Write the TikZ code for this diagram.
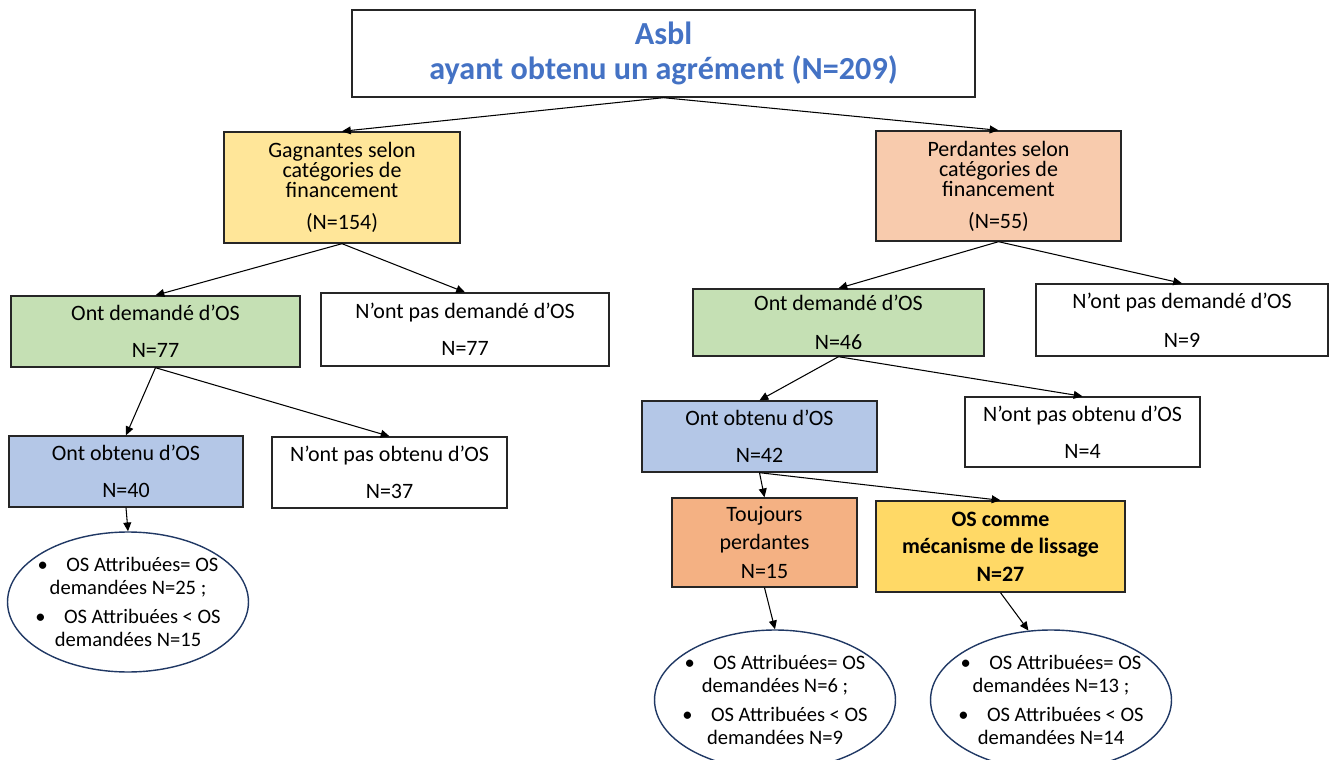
\documentclass[tikz,border=0pt]{standalone}
\usepackage{fontspec}
\setmainfont{Carlito}
\usepackage{xcolor}
\usetikzlibrary{arrows.meta, shapes.geometric}

\definecolor{titre}{HTML}{4472C4}
\definecolor{jaune}{HTML}{FFE699}
\definecolor{saumon}{HTML}{F8CBAD}
\definecolor{vert}{HTML}{C5E0B4}
\definecolor{bleu}{HTML}{B4C7E7}
\definecolor{orangeclair}{HTML}{F4B183}
\definecolor{ocre}{HTML}{FFD966}
\definecolor{trait}{HTML}{203864}

\begin{document}
\begin{tikzpicture}[x=0.02cm, y=-0.02cm,
  boite/.style={draw=black!85, line width=0.8pt, align=center, inner sep=0pt, font=\fontsize{12.5}{15}\selectfont},
  bulle/.style={draw=trait, line width=0.8pt, ellipse, inner sep=0pt, minimum width=4.82cm, minimum height=2.8cm},
  puces/.style={align=center, inner sep=0pt, font=\fontsize{11.7}{13}\selectfont},
  fleche/.style={line width=0.6pt, -{Triangle[length=5pt, width=4.5pt]}}]

  \useasboundingbox (0,0) rectangle (1329,760);

  % Racine
  \node[boite, minimum width=12.46cm, minimum height=1.74cm, text=titre,
        font=\fontsize{18.3}{20.4}\selectfont\bfseries] (asbl) at (663.5,53.5)
        {Asbl\\ayant obtenu un agrément (N=209)};

  % Gagnantes / perdantes
  \node[boite, fill=jaune, minimum width=4.72cm, minimum height=2.22cm,
        font=\fontsize{12.5}{11.5}\selectfont] (gagn) at (342,187.5)
        {Gagnantes selon\\catégories de\\financement\\[6.5pt](N=154)};
  \node[boite, fill=saumon, minimum width=4.90cm, minimum height=2.20cm,
        font=\fontsize{12.5}{11.5}\selectfont] (perd) at (998.5,186)
        {Perdantes selon\\catégories de\\financement\\[6.5pt](N=55)};

  % Demandes d'OS
  \node[boite, fill=vert, minimum width=5.78cm, minimum height=1.42cm] (dem1) at (155.5,331.5)
        {Ont demandé d’OS\\[6pt]N=77};
  \node[boite, minimum width=5.76cm, minimum height=1.46cm] (nodem1) at (465,329.5)
        {N’ont pas demandé d’OS\\[6pt]N=77};
  \node[boite, fill=vert, minimum width=5.82cm, minimum height=1.34cm] (dem2) at (838.5,322.5)
        {Ont demandé d’OS\\[7pt]N=46};
  \node[boite, minimum width=5.84cm, minimum height=1.44cm] (nodem2) at (1182,320)
        {N’ont pas demandé d’OS\\[7pt]N=9};

  % Obtention d'OS
  \node[boite, fill=bleu, minimum width=4.68cm, minimum height=1.42cm] (obt1) at (126,471.5)
        {Ont obtenu d’OS\\[6pt]N=40};
  \node[boite, minimum width=4.70cm, minimum height=1.42cm] (noobt1) at (389.5,472.5)
        {N’ont pas obtenu d’OS\\[6pt]N=37};
  \node[boite, fill=bleu, minimum width=4.70cm, minimum height=1.42cm] (obt2) at (759.5,436.5)
        {Ont obtenu d’OS\\[6pt]N=42};
  \node[boite, minimum width=4.70cm, minimum height=1.40cm] (noobt2) at (1082.5,432)
        {N’ont pas obtenu d’OS\\[6pt]N=4};

  \node[boite, fill=orangeclair, minimum width=3.70cm, minimum height=1.78cm,
        font=\fontsize{12.5}{16}\selectfont] (touj) at (764.5,542.5)
        {Toujours\\perdantes\\N=15};
  \node[boite, fill=ocre, minimum width=4.98cm, minimum height=1.82cm,
        font=\fontsize{12.5}{15.6}\selectfont\bfseries] (lissage) at (1000.5,546.5)
        {OS comme\\mécanisme de lissage\\N=27};

  % Bulles
  \node[bulle] (ell1) at (128,602) {};
  \node[puces] (txt1) at (ell1.center)
        {\textbullet\hspace{0.9em}OS Attribuées= OS\\demandées N=25 ;\\[3.4pt]\textbullet\hspace{0.9em}OS Attribuées < OS\\demandées N=15};
  \node[bulle] (ell2) at (775,700) {};
  \node[puces] (txt2) at (ell2.center)
        {\textbullet\hspace{0.9em}OS Attribuées= OS\\demandées N=6 ;\\[3.4pt]\textbullet\hspace{0.9em}OS Attribuées < OS\\demandées N=9};
  \node[bulle] (ell3) at (1051,700) {};
  \node[puces] (txt3) at (ell3.center)
        {\textbullet\hspace{0.9em}OS Attribuées= OS\\demandées N=13 ;\\[3.4pt]\textbullet\hspace{0.9em}OS Attribuées < OS\\demandées N=14};

  % Fleches
  \draw[fleche] (asbl.south) -- (gagn.north);
  \draw[fleche] (asbl.south) -- (perd.north);
  \draw[fleche] (gagn.south) -- (dem1.north);
  \draw[fleche] (gagn.south) -- (nodem1.north);
  \draw[fleche] (perd.south) -- (dem2.north);
  \draw[fleche] (perd.south) -- (nodem2.north);
  \draw[fleche] (dem1.south) -- (obt1.north);
  \draw[fleche] (dem1.south) -- (noobt1.north);
  \draw[fleche] (dem2.south) -- (obt2.north);
  \draw[fleche] (dem2.south) -- (noobt2.north);
  \draw[fleche] (obt2.south) -- (touj.north);
  \draw[fleche] (obt2.south) -- (lissage.north);
  \draw[fleche] (obt1.south) -- (ell1.north);
  \draw[fleche] (touj.south) -- (ell2.north);
  \draw[fleche] (lissage.south) -- (ell3.108);
\end{tikzpicture}
\end{document}
